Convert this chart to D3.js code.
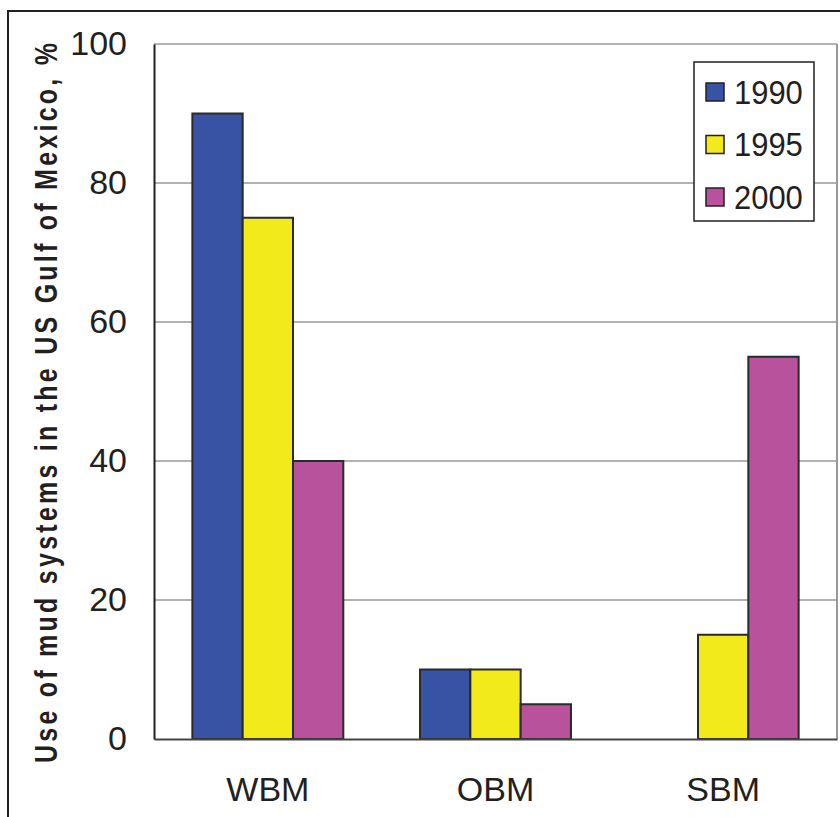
<!DOCTYPE html>
<html>
<head>
<meta charset="utf-8">
<script src="https://cdn.jsdelivr.net/npm/d3@7"></script>
<style>
  body { margin: 0; background: #fff; }
  svg { display: block; }
  .tick-label, .legend-label, .cat-label {
    font-family: "Liberation Sans", Arial, sans-serif;
    fill: #231f20;
  }
</style>
</head>
<body>
<svg width="840" height="817"></svg>
<script>
const categories = ["WBM", "OBM", "SBM"];
const years = ["1990", "1995", "2000"];
const values1990 = [90, 10, 0];
const values1995 = [75, 10, 15];
const values2000 = [40, 5, 55];
const yTicks = [0, 20, 40, 60, 80, 100];
const colors = ["#3953a4", "#f2ea1b", "#b8529c"];

const seriesValues = [values1990, values1995, values2000];
const data = categories.map((c, i) => ({
  category: c,
  values: years.map((yr, j) => ({ year: yr, value: seriesValues[j][i] }))
}));

const svg = d3.select("svg");
const plot = { left: 154, right: 837, top: 44, bottom: 739 };

// outer frame (runs off the right and bottom edges)
svg.append("rect")
  .attr("x", 8).attr("y", 11)
  .attr("width", 900).attr("height", 900)
  .attr("fill", "none")
  .attr("stroke", "#231f20")
  .attr("stroke-width", 2);

const x0 = d3.scaleBand()
  .domain(categories)
  .range([plot.left, plot.right])
  .paddingInner(0.337)
  .paddingOuter(0.1685);

const x1 = d3.scaleBand()
  .domain(years)
  .range([0, x0.bandwidth()]);

const y = d3.scaleLinear().domain([0, 100]).range([plot.bottom, plot.top]);
const color = d3.scaleOrdinal().domain(years).range(colors);

// gridlines
svg.append("g")
  .selectAll("line")
  .data(yTicks.filter(d => d > 0))
  .join("line")
  .attr("x1", plot.left).attr("x2", plot.right)
  .attr("y1", d => y(d)).attr("y2", d => y(d))
  .attr("stroke", "#999")
  .attr("stroke-width", 1.5);

// right border
svg.append("line")
  .attr("x1", plot.right).attr("x2", plot.right)
  .attr("y1", plot.top).attr("y2", plot.bottom)
  .attr("stroke", "#999")
  .attr("stroke-width", 2);

// bars
svg.append("g")
  .selectAll("g")
  .data(data)
  .join("g")
  .attr("transform", d => `translate(${x0(d.category)},0)`)
  .selectAll("rect")
  .data(d => d.values.filter(v => v.value > 0))
  .join("rect")
  .attr("x", d => x1(d.year))
  .attr("y", d => y(d.value))
  .attr("width", x1.bandwidth())
  .attr("height", d => y(0) - y(d.value))
  .attr("fill", d => color(d.year))
  .attr("stroke", "#2a2a2a")
  .attr("stroke-width", 2);

// axes
const yAxis = svg.append("g")
  .attr("transform", `translate(${plot.left},0)`)
  .call(d3.axisLeft(y).tickValues(yTicks).tickSize(0).tickPadding(27));
yAxis.select(".domain").attr("stroke", "#231f20").attr("stroke-width", 2);
yAxis.selectAll("text")
  .attr("class", "tick-label")
  .style("font-size", "34px")
  .attr("fill", "#231f20");

const xAxis = svg.append("g")
  .attr("transform", `translate(0,${plot.bottom})`)
  .call(d3.axisBottom(x0).tickSize(0).tickPadding(38));
xAxis.select(".domain").attr("stroke", "#444").attr("stroke-width", 2);
xAxis.selectAll("text")
  .attr("class", "cat-label")
  .style("font-size", "34px")
  .attr("fill", "#231f20");

// y title
svg.append("text")
  .attr("transform", `translate(57,${(43 + 763) / 2}) rotate(-90) scale(1,1.22)`)
  .attr("text-anchor", "middle")
  .attr("textLength", 720)
  .attr("lengthAdjust", "spacing")
  .style("font-family", "'Liberation Sans', Arial, sans-serif")
  .style("font-weight", "bold")
  .style("font-size", "25px")
  .attr("fill", "#231f20")
  .text("Use of mud systems in the US Gulf of Mexico, %");

// legend
const legend = svg.append("g").attr("transform", "translate(694,62)");
legend.append("rect")
  .attr("width", 120).attr("height", 159)
  .attr("fill", "#fff")
  .attr("stroke", "#231f20")
  .attr("stroke-width", 1.5);

const rows = legend.selectAll("g")
  .data(years)
  .join("g")
  .attr("transform", (d, i) => `translate(0,${30 + i * 52.5})`);

rows.append("rect")
  .attr("x", 12).attr("y", -9)
  .attr("width", 18).attr("height", 18)
  .attr("fill", d => color(d))
  .attr("stroke", "#231f20")
  .attr("stroke-width", 1.5);

rows.append("text")
  .attr("class", "legend-label")
  .attr("transform", "translate(40,0) scale(0.91,1)")
  .attr("dy", "0.35em")
  .style("font-size", "34px")
  .text(d => d);
</script>
</body>
</html>
